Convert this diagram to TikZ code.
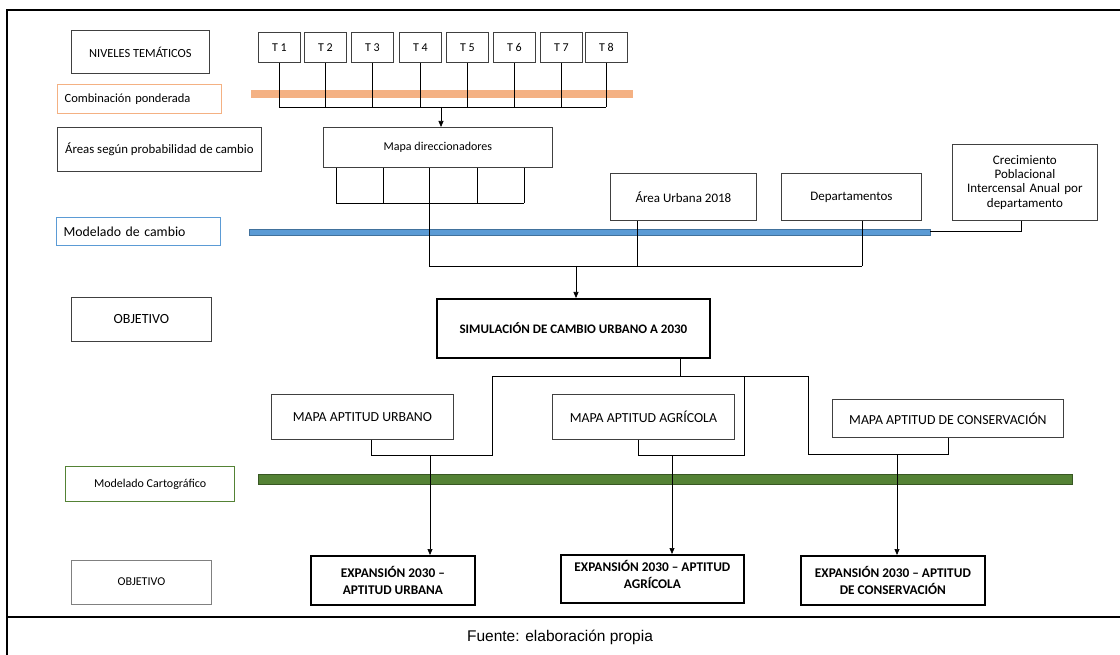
\documentclass[tikz,border=0pt]{standalone}
\usepackage{fontspec}
\setmainfont{Carlito}
\newfontfamily\arialf{Liberation Sans}
\usetikzlibrary{arrows.meta}
\definecolor{boxgray}{HTML}{404040}
\definecolor{orangebar}{HTML}{F4B183}
\definecolor{bluebar}{HTML}{5B9BD5}
\definecolor{blueedge}{HTML}{41719C}
\definecolor{greenbar}{HTML}{548235}
\definecolor{greenedge}{HTML}{385723}
\definecolor{greenbox}{HTML}{548235}
\tikzset{
  box/.style={draw=boxgray, line width=0.8pt, anchor=north west, align=center, inner sep=2pt, font=\fontsize{12}{14}\selectfont},
  thickbox/.style={draw=black, line width=1.8pt, anchor=north west, align=center, inner sep=2pt, font=\bfseries\fontsize{13.3}{17}\selectfont},
  conn/.style={draw=black, line width=0.7pt},
  arr/.style={conn, -{Triangle[length=6pt,width=5pt]}},
  tbox/.style={box, minimum width=42pt, minimum height=30pt, font=\fontsize{12}{14}\selectfont},
  mapbox/.style={box, font=\fontsize{13.8}{16}\selectfont}
}
\begin{document}
\begin{tikzpicture}[x=1pt,y=-1pt]
\clip (0,0) rectangle (1120,655);
\fill[white] (0,0) rectangle (1120,655);
% frame
\draw[line width=2.6pt] (7,660) -- (7,10) -- (1125,10);
\draw[line width=2.6pt] (7,617) -- (1125,617);
\node[font=\arialf\fontsize{15.5}{18}\selectfont] (fuente) at (560,637) {Fuente: elaboración propia};

% colour bars
\fill[orangebar] (251,90.5) rectangle (633,98);
\filldraw[fill=bluebar, draw=blueedge, line width=0.8pt] (249,229) rectangle (930,235);
\filldraw[fill=greenbar, draw=greenedge, line width=0.8pt] (258,474.5) rectangle (1072,484);

% left labels
\node[box, minimum width=138pt, minimum height=43pt, font=\fontsize{12.4}{14}\selectfont] (niv) at (71,30) {NIVELES TEMÁTICOS};
\node[box, draw=orangebar, line width=1.2pt, minimum width=164pt, minimum height=29pt, text width=150pt, align=left, font=\fontsize{12.5}{14}\selectfont] (comb) at (57,84) {Combinación ponderada};
\node[box, minimum width=204pt, minimum height=44pt, font=\fontsize{12.8}{14}\selectfont] (areas) at (57,127) {Áreas según probabilidad de cambio};
\node[box, draw=bluebar, line width=1.2pt, minimum width=164pt, minimum height=28pt, text width=150pt, align=left, font=\fontsize{13.8}{15}\selectfont] (modc) at (56,217) {Modelado de cambio};
\node[box, minimum width=140pt, minimum height=44pt, font=\fontsize{14}{16}\selectfont] (obj1) at (71,297) {OBJETIVO};
\node[box, draw=greenbox, line width=1.2pt, minimum width=169pt, minimum height=35pt, font=\fontsize{12}{14}\selectfont] (modcart) at (65,466) {Modelado Cartográfico};
\node[box, draw=gray, minimum width=140pt, minimum height=44pt, font=\fontsize{12}{14}\selectfont] (obj2) at (71,559.5) {OBJETIVO};

% T boxes
\node[tbox] (t1) at (258,32.5) {T 1};
\node[tbox] (t2) at (304,32.5) {T 2};
\node[tbox] (t3) at (351,32.5) {T 3};
\node[tbox] (t4) at (399,32.5) {T 4};
\node[tbox] (t5) at (446,32.5) {T 5};
\node[tbox] (t6) at (493,32.5) {T 6};
\node[tbox] (t7) at (540,32.5) {T 7};
\node[tbox] (t8) at (585,32.5) {T 8};

% main boxes
\node[box, minimum width=229pt, minimum height=40pt] (mapa) at (323,127) {Mapa direccionadores};
\node[box, minimum width=146pt, minimum height=47pt, font=\fontsize{13}{15}\selectfont] (urb18) at (610,173) {Área Urbana 2018};
\node[box, minimum width=140pt, minimum height=47pt, font=\fontsize{13}{15}\selectfont] (dep) at (781,173) {Departamentos};
\node[box, minimum width=145pt, minimum height=76pt, text width=135pt, font=\fontsize{13}{14.3}\selectfont] (crec) at (952,144) {Crecimiento\\Poblacional\\Intercensal Anual por\\departamento};
\node[thickbox, minimum width=273pt, minimum height=59pt, font=\bfseries\fontsize{13}{15}\selectfont] (sim) at (436,298) {SIMULACIÓN DE CAMBIO URBANO A 2030};
\node[mapbox, minimum width=182pt, minimum height=45pt] (mu) at (271,394) {MAPA APTITUD URBANO};
\node[mapbox, minimum width=182pt, minimum height=45pt] (ma) at (552,394) {MAPA APTITUD AGRÍCOLA};
\node[mapbox, minimum width=231pt, minimum height=38pt] (mc) at (832,399) {MAPA APTITUD DE CONSERVACIÓN};
\node[thickbox, minimum width=164pt, minimum height=49pt] (eu) at (310,555) {EXPANSIÓN 2030 –\\APTITUD URBANA};
\node[thickbox, minimum width=183pt, minimum height=48pt] (ea) at (560,554) {EXPANSIÓN 2030 – APTITUD\\AGRÍCOLA\\[-14pt]\strut};
\node[thickbox, minimum width=184pt, minimum height=49pt] (ec) at (800,555) {EXPANSIÓN 2030 – APTITUD\\DE CONSERVACIÓN};

% T connectors
\coordinate (tbus) at (441,107);
\foreach \t in {t1,t2,t3,t4,t5,t6,t7,t8}{
  \draw[conn] (\t.south) -- (\t.south |- tbus);
}
\draw[conn] (t1.south |- tbus) -- (t8.south |- tbus);
\draw[arr] (tbus) -- (tbus |- mapa.north);

% mapa direccionadores connectors
\foreach \xx in {336,383,429,477,524}{
  \draw[conn] (mapa.south -| \xx,0) -- (\xx,203);
}
\draw[conn] (336,203) -- (524,203);
\coordinate (sbus) at (576,266);
\coordinate (urbx) at (637,266);
\coordinate (depx) at (862,266);
\draw[conn] (429,203) -- (429,266) -- (depx);
\draw[conn] (urb18.south -| urbx) -- (urbx);
\draw[conn] (dep.south -| depx) -- (depx);
\draw[arr] (sbus) -- (sbus |- sim.north);
% crecimiento
\coordinate (cend) at (930,231);
\draw[conn] (crec.south -| 1021,0) -- (1021,231) -- (cend);

% simulation tree
\coordinate (simb) at (680,376);
\draw[conn] (sim.south -| simb) -- (simb);
\draw[conn] (492,376) -- (808,376);
\draw[conn] (mu.south -| 371,0) -- (371,455) -- (492,455) -- (492,376);
\draw[conn] (ma.south -| 638,0) -- (638,455) -- (744,455) -- (744,376);
\draw[conn] (mc.south -| 948,0) -- (948,454) -- (808,454) -- (808,376);
\draw[arr] (430,455) -- (eu.north -| 430,0);
\draw[arr] (672,455) -- (ea.north -| 672,0);
\draw[arr] (897,454) -- (ec.north -| 897,0);
\end{tikzpicture}
\end{document}
